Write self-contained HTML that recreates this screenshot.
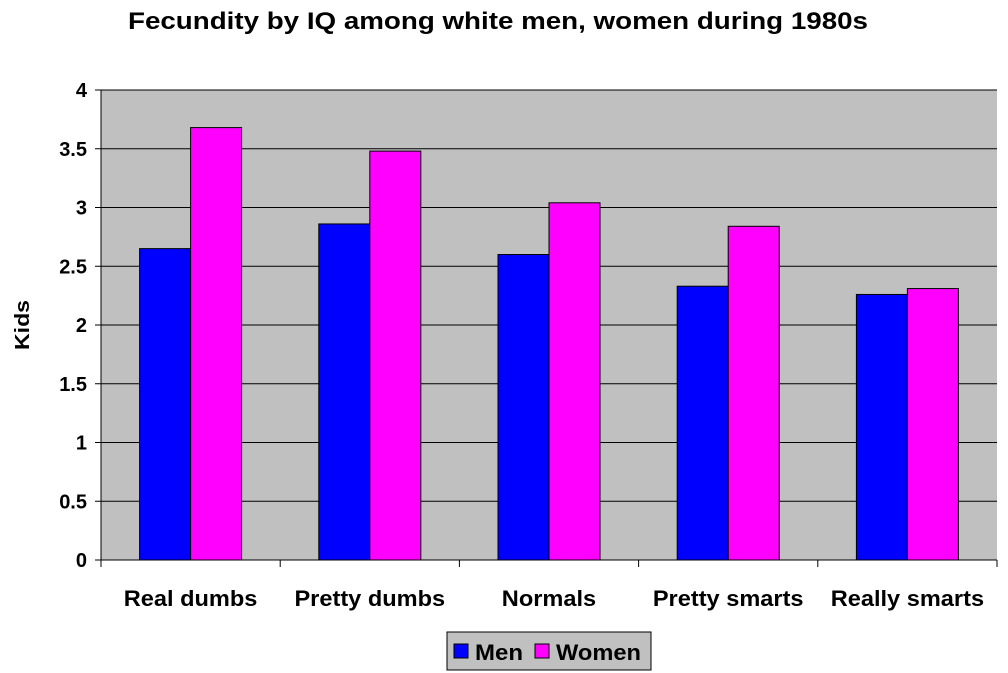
<!DOCTYPE html>
<html><head><meta charset="utf-8"><style>
body{margin:0;background:#fff;}
svg{display:block;font-family:"Liberation Sans",Arial,sans-serif;font-weight:bold;}
</style></head><body>
<svg id="chart" width="1008" height="673">
<text x="498" y="29" text-anchor="middle" font-size="24" textLength="740" lengthAdjust="spacingAndGlyphs">Fecundity by IQ among white men, women during 1980s</text>
<rect x="101" y="90" width="896" height="470" fill="#c0c0c0"/>
<g id="grid"></g><g id="bars"></g><g id="axes"></g>
<text transform="translate(29,325) rotate(-90)" text-anchor="middle" font-size="20" textLength="50" lengthAdjust="spacingAndGlyphs">Kids</text>
<g>
<rect x="447" y="632" width="204" height="38" fill="#c0c0c0" stroke="#000"/>
<rect x="454" y="644" width="14" height="14" fill="#0000ff" stroke="#000"/>
<text x="475" y="660" font-size="22" textLength="48" lengthAdjust="spacingAndGlyphs">Men</text>
<rect x="535" y="644" width="14" height="14" fill="#ff00ff" stroke="#000"/>
<text x="556" y="660" font-size="22" textLength="85" lengthAdjust="spacingAndGlyphs">Women</text>
</g>
</svg>
<script>
const categories=["Real dumbs","Pretty dumbs","Normals","Pretty smarts","Really smarts"];
const menValues=[2.65,2.86,2.60,2.33,2.26];
const womenValues=[3.68,3.48,3.04,2.84,2.31];
const yTicks=[0,0.5,1,1.5,2,2.5,3,3.5,4];
const NS="http://www.w3.org/2000/svg";
const X0=101,X1=997,Y0=560,Y1=90,YMAX=4;
const labelScale=1.31;
const y=v=>Y0-(v/YMAX)*(Y0-Y1);
const cw=(X1-X0)/categories.length;
const xc=i=>X0+i*cw;
function mk(tag,attrs,parent,txt){const e=document.createElementNS(NS,tag);for(const k in attrs)e.setAttribute(k,attrs[k]);if(txt!==undefined)e.textContent=txt;document.getElementById(parent).appendChild(e);return e;}
yTicks.forEach(t=>{
 if(t>0){const l=mk('line',{x1:X0,x2:X1,y1:y(t),y2:y(t),stroke:'#000','stroke-width':1},'grid');
 
 }
 const tk=mk('line',{x1:X0-6,x2:X0,y1:y(t),y2:y(t),stroke:'#000'},'axes');
 
 
 const tl=mk('text',{x:X0-14,y:y(t)+7,'text-anchor':'end','font-size':20},'axes',String(t));
 
 
});
const bw=51,off=(cw-2*bw)/2;
categories.forEach((c,i)=>{
 const m=mk('rect',{x:xc(i)+off,y:y(menValues[i]),width:bw,height:Y0-y(menValues[i]),fill:'#0000ff',stroke:'#000'},'bars');
 
 
 const w=mk('rect',{x:xc(i)+off+bw,y:y(womenValues[i]),width:bw,height:Y0-y(womenValues[i]),fill:'#ff00ff',stroke:'#000'},'bars');
 
 
 const lb=mk('text',{x:xc(i)+cw/2,y:606,'text-anchor':'middle','font-size':18},'axes',c);
 
 
 const wdt=lb.getComputedTextLength();
 lb.setAttribute('font-size',22);
 lb.setAttribute('textLength',wdt*labelScale);
 lb.setAttribute('lengthAdjust','spacingAndGlyphs');
});
for(let i=0;i<=categories.length;i++){
 const t=mk('line',{x1:xc(i),x2:xc(i),y1:Y0,y2:Y0+7,stroke:'#000'},'axes');
 
 
}
const ax=mk('line',{x1:X0,x2:X0,y1:Y1,y2:Y0,stroke:'#000'},'axes');


const bx=mk('line',{x1:X0,x2:X1,y1:Y0,y2:Y0,stroke:'#000'},'axes');


</script>
</body></html>
